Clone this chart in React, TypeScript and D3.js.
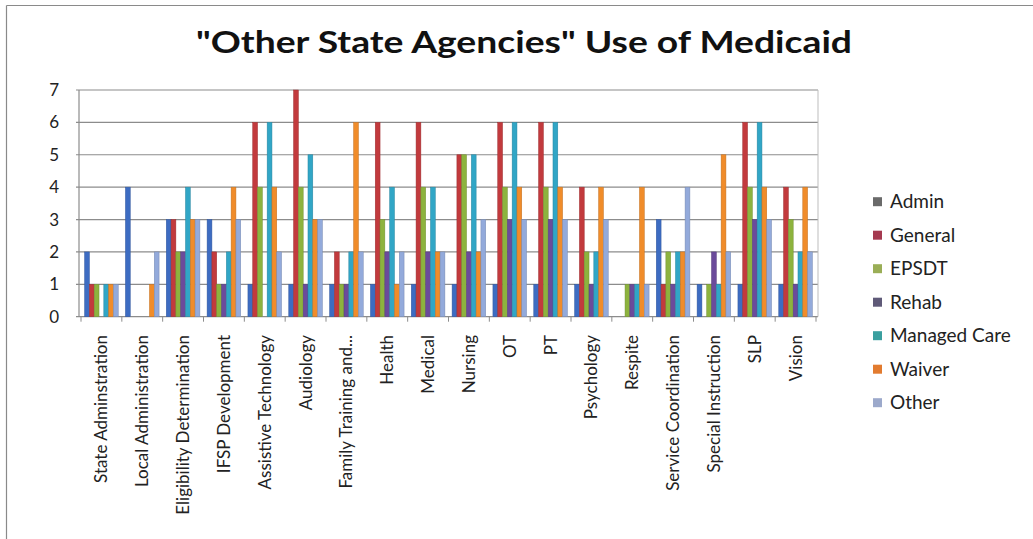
import React from "react";
import * as d3 from "d3";

const categories = [
  "State Adminstration",
  "Local Administration",
  "Eligibility Determination",
  "IFSP Development",
  "Assistive Technology",
  "Audiology",
  "Family Training and...",
  "Health",
  "Medical",
  "Nursing",
  "OT",
  "PT",
  "Psychology",
  "Respite",
  "Service Coordination",
  "Special Instruction",
  "SLP",
  "Vision",
];

const seriesNames = ["Admin", "General", "EPSDT", "Rehab", "Managed Care", "Waiver", "Other"];

const admin = [2, 4, 3, 3, 1, 1, 1, 1, 1, 1, 1, 1, 1, 0, 3, 1, 1, 1];
const general = [1, 0, 3, 2, 6, 7, 2, 6, 6, 5, 6, 6, 4, 0, 1, 0, 6, 4];
const epsdt = [1, 0, 2, 1, 4, 4, 1, 3, 4, 5, 4, 4, 2, 1, 2, 1, 4, 3];
const rehab = [0, 0, 2, 1, 0, 1, 1, 2, 2, 2, 3, 3, 1, 1, 1, 2, 3, 1];
const managedCare = [1, 0, 4, 2, 6, 5, 2, 4, 4, 5, 6, 6, 2, 1, 2, 1, 6, 2];
const waiver = [1, 1, 3, 4, 4, 3, 6, 1, 2, 2, 4, 4, 4, 4, 2, 5, 4, 4];
const other = [1, 2, 3, 3, 2, 3, 2, 2, 2, 3, 3, 3, 3, 1, 4, 2, 3, 2];

const seriesValues = [admin, general, epsdt, rehab, managedCare, waiver, other];

const yTicks = [0, 1, 2, 3, 4, 5, 6, 7];

const barColors = ["#3d6cc2", "#c23a3d", "#8db33e", "#6b4b9b", "#31a6c6", "#f08c2a", "#93aadb"];
const legendColors = ["#6a6a6a", "#a53a50", "#9aae56", "#5f5a78", "#3a9f9f", "#e27b2f", "#9ca9cb"];

export default function App() {
  const W = 1033;
  const H = 539;
  const plotLeft = 81;
  const plotRight = 816;
  const plotTop = 90;
  const plotBottom = 316.7;

  const x = d3.scaleBand<string>().domain(categories).range([plotLeft, plotRight]).paddingInner(0).paddingOuter(0);
  const cw = x.bandwidth();
  const gap = (cw / 8.5) * 0.75;
  const xs = d3.scaleBand<string>().domain(seriesNames).range([gap, cw - gap]).padding(0);
  const y = d3.scaleLinear().domain([0, 7]).range([plotBottom, plotTop]);

  const font = "Lato, 'Open Sans', sans-serif";

  return (
    <div style={{ position: "absolute", left: 0, top: 0 }}>
      <svg width={W} height={H} style={{ display: "block", background: "#fff" }}>
        <line x1={6.5} y1={5.5} x2={W} y2={5.5} stroke="#8a8a8a" strokeWidth={1.2} />
        <line x1={6.5} y1={5.5} x2={6.5} y2={H} stroke="#8a8a8a" strokeWidth={1.2} />

        <text
          x={524}
          y={53}
          textAnchor="middle"
          fontFamily={font}
          fontWeight="bold"
          fontSize={31}
          fill="#111"
          textLength={656}
          lengthAdjust="spacingAndGlyphs"
        >
          "Other State Agencies" Use of Medicaid
        </text>

        {yTicks.map((t) => (
          <g key={t}>
            <line x1={plotLeft - 5} x2={plotRight + 2} y1={y(t)} y2={y(t)} stroke="#8c8c8c" strokeWidth={1.2} />
            <text x={59} y={y(t) + 6} textAnchor="end" fontFamily={font} fontSize={17} fill="#222">
              {t}
            </text>
          </g>
        ))}
        <line x1={plotLeft - 2} x2={plotLeft - 2} y1={plotTop} y2={plotBottom} stroke="#8c8c8c" strokeWidth={1.2} />
        <line x1={plotRight + 2} x2={plotRight + 2} y1={plotTop} y2={plotBottom} stroke="#bdbdbd" strokeWidth={1} />

        {categories.map((c, ci) => (
          <g key={c} transform={`translate(${x(c)},0)`}>
            {seriesNames.map((s, si) => {
              const v = seriesValues[si][ci];
              if (v <= 0) return null;
              return (
                <rect
                  key={s}
                  x={xs(s)}
                  y={y(v)}
                  width={xs.bandwidth()}
                  height={y(0) - y(v)}
                  fill={barColors[si]}
                  stroke={d3.color(barColors[si])!.darker(0.6).toString()}
                  strokeWidth={0.5}
                />
              );
            })}
          </g>
        ))}

        {categories.map((c) => (
          <line key={c} x1={x(c)!} x2={x(c)!} y1={plotBottom} y2={plotBottom + 5} stroke="#8c8c8c" />
        ))}
        <line x1={plotRight} x2={plotRight} y1={plotBottom} y2={plotBottom + 5} stroke="#8c8c8c" />

        {categories.map((c) => {
          const cx = x(c)! + cw / 2;
          const ty = 335;
          return (
            <text
              key={c}
              transform={`translate(${cx + 6},${ty}) rotate(-90)`}
              textAnchor="end"
              fontFamily={font}
              fontSize={17}
              fill="#222"
            >
              {c}
            </text>
          );
        })}

        {seriesNames.map((s, i) => {
          const ly = 201.7 + i * 33.5;
          return (
            <g key={s}>
              <rect x={873} y={ly - 4.5} width={9} height={9} fill={legendColors[i]} />
              <text x={890} y={ly + 6.5} fontFamily={font} fontSize={19} fill="#222">
                {s}
              </text>
            </g>
          );
        })}
      </svg>
    </div>
  );
}
